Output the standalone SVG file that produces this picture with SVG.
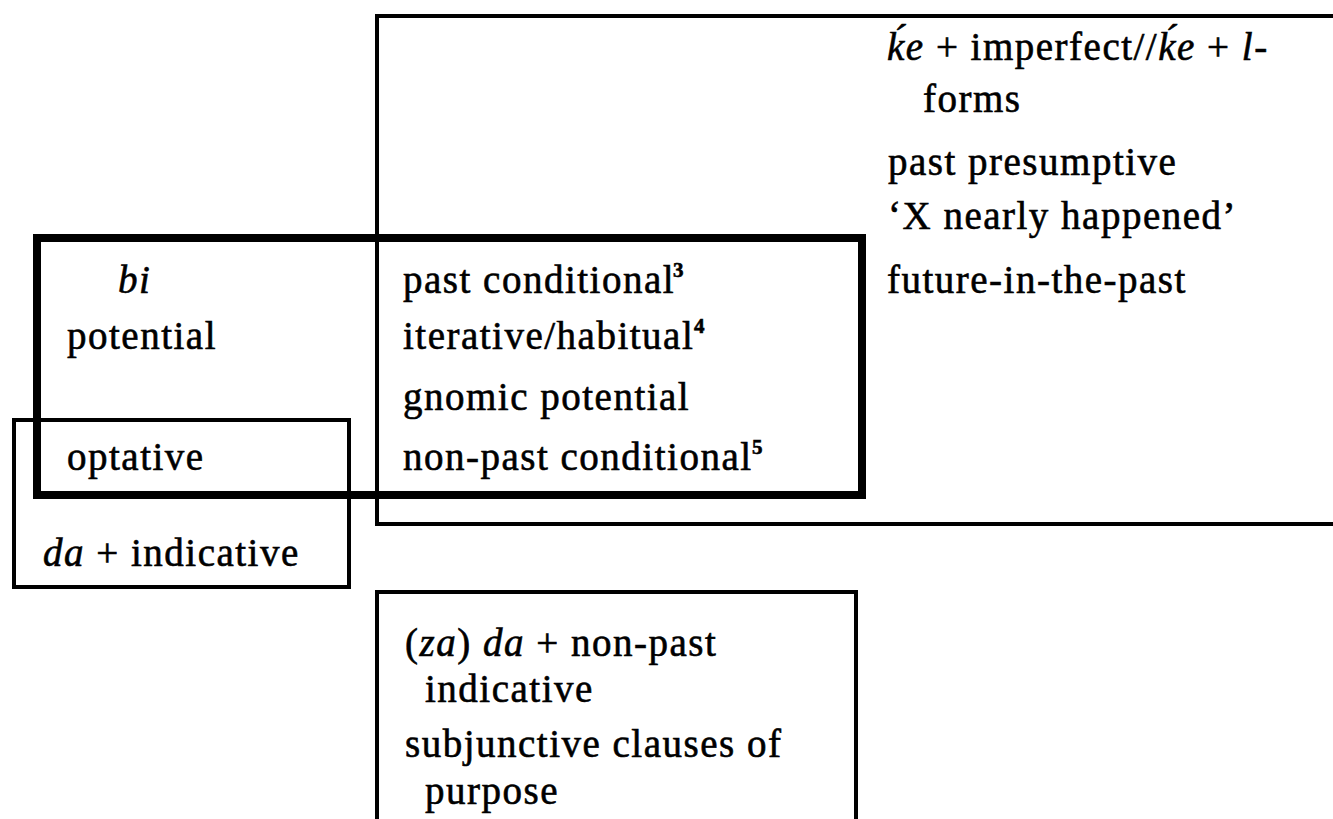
<svg xmlns="http://www.w3.org/2000/svg" width="1333" height="819" viewBox="0 0 1333 819">
  <style>
    text { font-family: "Liberation Serif", "Times New Roman", serif; font-size: 39px; fill: #000; stroke: #000; stroke-width: 0.6; letter-spacing: 1.5px; }
    .it { font-style: italic; }
    .sup { font-size: 21px; letter-spacing: 0; font-weight: bold; }
    .thin { fill: none; stroke: #000; stroke-width: 4; }
    .thick { fill: none; stroke: #000; stroke-width: 8; }
  </style>
  <rect width="1333" height="819" fill="#fff"/>

  <!-- region outlines only; this diagram has no connectors -->
  <g id="connectors"></g>

  <!-- ḱe-forms region: open to the right -->
  <g id="ke-region">
    <path class="thin" d="M1340,16 H377 V524 H1340"/>
    <text x="887" y="60"><tspan class="it">ḱe</tspan> + imperfect//<tspan class="it">ḱe</tspan> + <tspan class="it">l</tspan>-</text>
    <text x="923" y="112">forms</text>
    <text x="888" y="175">past presumptive</text>
    <text x="888" y="229">‘X nearly happened’</text>
    <text x="887" y="293">future-in-the-past</text>
  </g>

  <!-- da + indicative region -->
  <g id="da-region">
    <rect class="thin" x="14" y="420" width="335" height="167"/>
    <text x="43" y="566"><tspan class="it">da</tspan> + indicative</text>
  </g>

  <!-- (za) da + non-past indicative region: open at the bottom -->
  <g id="za-da-region">
    <path class="thin" d="M377,830 V592 H856 V830"/>
    <text x="405" y="656">(<tspan class="it">za</tspan>) <tspan class="it">da</tspan> + non-past</text>
    <text x="425" y="702">indicative</text>
    <text x="405" y="757">subjunctive clauses of</text>
    <text x="425" y="804">purpose</text>
  </g>

  <!-- bi region (heavy outline) -->
  <g id="bi-region">
    <rect class="thick" x="37" y="238" width="825" height="257"/>
    <text x="118" y="293" class="it">bi</text>
    <text x="67" y="349">potential</text>
    <text x="67" y="470">optative</text>
    <text x="403" y="293">past conditional</text>
    <text x="673" y="277" class="sup">3</text>
    <text x="694" y="333" class="sup">4</text>
    <text x="403" y="349">iterative/habitual</text>
    <text x="403" y="410">gnomic potential</text>
    <text x="403" y="470">non-past conditional</text>
    <text x="752" y="454" class="sup">5</text>
  </g>
</svg>
